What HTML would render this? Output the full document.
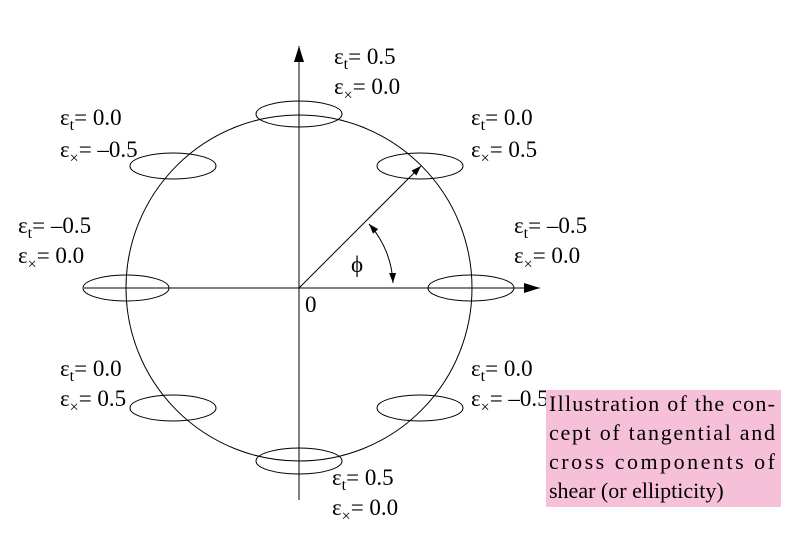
<!DOCTYPE html>
<html><head><meta charset="utf-8"><style>
html,body{margin:0;padding:0;background:#fff;}
svg{display:block;}
text{font-family:"Liberation Serif",serif;fill:#000;}
.lab{font-size:23px;}
.sub{font-size:16px;}
.cap{font-size:22px;}
</style></head><body>
<svg width="790" height="553" viewBox="0 0 790 553">
<defs>
<marker id="ah" viewBox="0 0 10 10" refX="10" refY="5" markerWidth="10" markerHeight="10" markerUnits="userSpaceOnUse" orient="auto"><path d="M0,1.5 L10,5 L0,8.5 Z" fill="#000"/></marker>
<marker id="ahs" viewBox="0 0 10 10" refX="10" refY="5" markerWidth="10" markerHeight="10" markerUnits="userSpaceOnUse" orient="auto-start-reverse"><path d="M0,1.5 L10,5 L0,8.5 Z" fill="#000"/></marker>
<marker id="big" viewBox="0 0 16 10" refX="16" refY="5" markerWidth="16" markerHeight="10" markerUnits="userSpaceOnUse" orient="auto"><path d="M0,0 L16,5 L0,10 Z" fill="#000"/></marker>
</defs>
<circle cx="299" cy="288" r="173" fill="none" stroke="#000" stroke-width="1"/>
<line x1="84" y1="288" x2="540" y2="288" stroke="#000" stroke-width="1" marker-end="url(#big)"/>
<line x1="299" y1="500" x2="299" y2="46" stroke="#000" stroke-width="1" marker-end="url(#big)"/>
<line x1="299" y1="288" x2="421" y2="166" stroke="#000" stroke-width="1" marker-end="url(#ah)"/>
<path d="M369,224 A94,94 0 0 1 393,283" fill="none" stroke="#000" stroke-width="1" marker-start="url(#ahs)" marker-end="url(#ah)"/>
<g fill="none" stroke="#000" stroke-width="1">
<ellipse cx="299" cy="114" rx="43" ry="13"/>
<ellipse cx="299" cy="461" rx="43" ry="13"/>
<ellipse cx="126" cy="288" rx="43" ry="13"/>
<ellipse cx="471" cy="288" rx="43" ry="13"/>
<ellipse cx="173" cy="166" rx="43" ry="13"/>
<ellipse cx="420" cy="166" rx="43" ry="13"/>
<ellipse cx="173" cy="408" rx="43" ry="13"/>
<ellipse cx="420" cy="408" rx="43" ry="13"/>
</g>
<text class="lab" x="351" y="272">ϕ</text>
<text class="lab" x="305" y="312">0</text>

<g>
<text class="lab" x="334" y="64">ε<tspan class="sub" dy="5">t</tspan><tspan dy="-5">= 0.5</tspan></text>
<text class="lab" x="334" y="94">ε<tspan class="sub" dy="6">×</tspan><tspan dy="-6">= 0.0</tspan></text>
</g>
<g>
<text class="lab" x="60" y="125">ε<tspan class="sub" dy="5">t</tspan><tspan dy="-5">= 0.0</tspan></text>
<text class="lab" x="60" y="157">ε<tspan class="sub" dy="6">×</tspan><tspan dy="-6">= –0.5</tspan></text>
</g>
<g>
<text class="lab" x="471" y="125">ε<tspan class="sub" dy="5">t</tspan><tspan dy="-5">= 0.0</tspan></text>
<text class="lab" x="471" y="157">ε<tspan class="sub" dy="6">×</tspan><tspan dy="-6">= 0.5</tspan></text>
</g>
<g>
<text class="lab" x="18" y="233">ε<tspan class="sub" dy="5">t</tspan><tspan dy="-5">= –0.5</tspan></text>
<text class="lab" x="18" y="263">ε<tspan class="sub" dy="6">×</tspan><tspan dy="-6">= 0.0</tspan></text>
</g>
<g>
<text class="lab" x="514" y="233">ε<tspan class="sub" dy="5">t</tspan><tspan dy="-5">= –0.5</tspan></text>
<text class="lab" x="514" y="263">ε<tspan class="sub" dy="6">×</tspan><tspan dy="-6">= 0.0</tspan></text>
</g>
<g>
<text class="lab" x="60" y="376">ε<tspan class="sub" dy="5">t</tspan><tspan dy="-5">= 0.0</tspan></text>
<text class="lab" x="60" y="406">ε<tspan class="sub" dy="6">×</tspan><tspan dy="-6">= 0.5</tspan></text>
</g>
<g>
<text class="lab" x="471" y="376">ε<tspan class="sub" dy="5">t</tspan><tspan dy="-5">= 0.0</tspan></text>
<text class="lab" x="471" y="406">ε<tspan class="sub" dy="6">×</tspan><tspan dy="-6">= –0.5</tspan></text>
</g>
<g>
<text class="lab" x="332" y="485">ε<tspan class="sub" dy="5">t</tspan><tspan dy="-5">= 0.5</tspan></text>
<text class="lab" x="332" y="515">ε<tspan class="sub" dy="6">×</tspan><tspan dy="-6">= 0.0</tspan></text>
</g>

<g>
<rect x="546" y="390" width="235" height="117" fill="#f5c0d8"/>
<text class="cap" x="549" y="411" textLength="226" lengthAdjust="spacing">Illustration of the con-</text>
<text class="cap" x="549" y="440" textLength="226" lengthAdjust="spacing">cept of tangential and</text>
<text class="cap" x="549" y="469" textLength="226" lengthAdjust="spacing">cross components of</text>
<text class="cap" x="549" y="498">shear (or ellipticity)</text>
</g>
</svg>
</body></html>
